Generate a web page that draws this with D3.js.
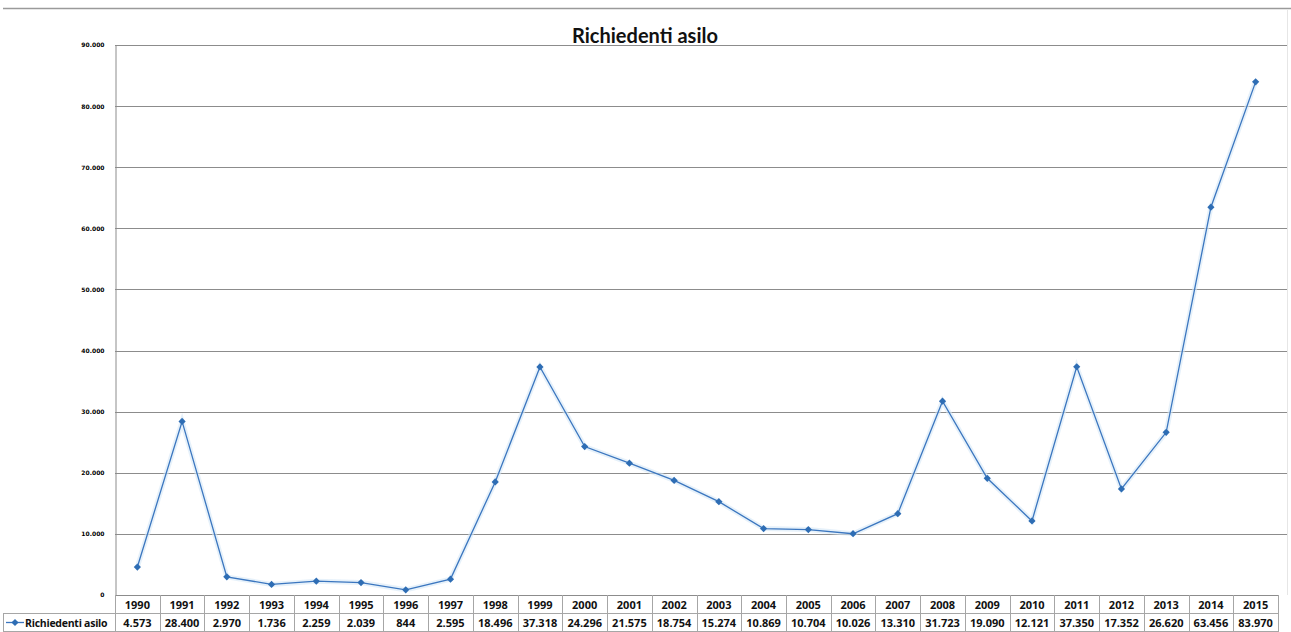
<!DOCTYPE html>
<html>
<head>
<meta charset="utf-8">
<script src="https://cdn.jsdelivr.net/npm/d3@7"></script>
<style>
  html, body { margin: 0; padding: 0; background: #fff; }
  svg { display: block; }
</style>
</head>
<body>
<svg id="chart" width="1291" height="632"></svg>
<script>
const years = ["1990","1991","1992","1993","1994","1995","1996","1997","1998","1999","2000","2001","2002","2003","2004","2005","2006","2007","2008","2009","2010","2011","2012","2013","2014","2015"];
const richiedenti = [4573, 28400, 2970, 1736, 2259, 2039, 844, 2595, 18496, 37318, 24296, 21575, 18754, 15274, 10869, 10704, 10026, 13310, 31723, 19090, 12121, 37350, 17352, 26620, 63456, 83970];
const yTicks = [0, 10000, 20000, 30000, 40000, 50000, 60000, 70000, 80000, 90000];
const seriesName = "Richiedenti asilo";
const chartTitle = "Richiedenti asilo";

(function () {
const svg = d3.select("#chart");
const W = 1291;
const pLeft = 115, pRight = 1278, plotRight = 1287, pTop = 45, pBottom = 595;
const row1 = 613, row2 = 632;
const lineColor = "#3b76bf";
const markColor = "#2e6db4";
const gridColor = "#8c8c8c";
const tableColor = "#a6a6a6";

const loc = d3.formatLocale({decimal: ",", thousands: ".", grouping: [3], currency: ["€", ""]});
const fmt = loc.format(",d");

const x = d3.scaleBand().domain(years).range([pLeft, pRight]);
const y = d3.scaleLinear().domain([0, 90000]).range([pBottom, pTop]);

// top rule
svg.append("line").attr("x1", 3).attr("x2", W).attr("y1", 8.5).attr("y2", 8.5)
  .attr("stroke", "#9a9a9a").attr("stroke-width", 1.5);

// gridlines
svg.append("g").selectAll("line").data(yTicks.filter(d => d > 0)).join("line")
  .attr("x1", pLeft).attr("x2", plotRight)
  .attr("y1", d => Math.round(y(d)) + 0.5).attr("y2", d => Math.round(y(d)) + 0.5)
  .attr("stroke", gridColor).attr("stroke-width", 1);

// faint right border
svg.append("line").attr("x1", plotRight + 0.5).attr("x2", plotRight + 0.5)
  .attr("y1", 10).attr("y2", pBottom).attr("stroke", "#e6e6e6");

// y axis
const yAxis = d3.axisLeft(y).tickValues(yTicks).tickSize(0).tickPadding(11)
  .tickFormat(d => fmt(d));
const gy = svg.append("g").attr("transform", `translate(${pLeft + 0.5},0)`).call(yAxis);
gy.select(".domain").attr("stroke", gridColor);
gy.selectAll("text").attr("font-family", "'DejaVu Sans', sans-serif")
  .attr("font-size", 6).attr("font-weight", "bold").attr("fill", "#000");

// title
svg.append("text").attr("x", 645).attr("y", 43).attr("text-anchor", "middle")
  .attr("font-family", "Lato, 'Open Sans', sans-serif").attr("font-weight", "bold")
  .attr("font-size", 20).attr("fill", "#111").text(chartTitle);

// line
const cx = d => x(d) + x.bandwidth() / 2;
const line = d3.line().x((d, i) => cx(years[i])).y(d => y(d));
svg.append("path").datum(richiedenti).attr("d", line)
  .attr("fill", "none").attr("stroke", "#d6e7f6").attr("stroke-width", 5).attr("opacity", 0.6);
svg.append("path").datum(richiedenti).attr("d", line)
  .attr("fill", "none").attr("stroke", lineColor).attr("stroke-width", 1.3);

const diamond = d3.symbol().type(d3.symbolSquare).size(26);
svg.append("g").selectAll("path").data(richiedenti).join("path")
  .attr("d", diamond)
  .attr("transform", (d, i) => `translate(${cx(years[i])},${y(d)}) rotate(45)`)
  .attr("fill", markColor);

// data table
const tg = svg.append("g");
tg.append("line").attr("x1", pLeft).attr("x2", pRight).attr("y1", pBottom + 0.5).attr("y2", pBottom + 0.5)
  .attr("stroke", gridColor);
tg.append("line").attr("x1", 3).attr("x2", pRight).attr("y1", row1 + 0.5).attr("y2", row1 + 0.5)
  .attr("stroke", tableColor);
tg.append("line").attr("x1", 3).attr("x2", pRight).attr("y1", row2 - 0.5).attr("y2", row2 - 0.5)
  .attr("stroke", tableColor);
const edges = years.map(d => x(d)).concat([pRight]);
tg.selectAll("line.v").data(edges).join("line").attr("class", "v")
  .attr("x1", d => Math.round(d) + 0.5).attr("x2", d => Math.round(d) + 0.5)
  .attr("y1", pBottom).attr("y2", row2)
  .attr("stroke", tableColor);
tg.append("line").attr("x1", 3.5).attr("x2", 3.5).attr("y1", row1).attr("y2", row2).attr("stroke", tableColor);

tg.selectAll("text.yr").data(years).join("text").attr("class", "yr")
  .attr("x", d => cx(d)).attr("y", 608.5).attr("text-anchor", "middle")
  .attr("font-family", "'Open Sans', sans-serif").attr("font-weight", "bold")
  .attr("font-size", 11).attr("fill", "#111").text(d => d);
tg.selectAll("text.val").data(richiedenti).join("text").attr("class", "val")
  .attr("x", (d, i) => cx(years[i])).attr("y", 627).attr("text-anchor", "middle")
  .attr("font-family", "'Open Sans', sans-serif").attr("font-weight", "bold")
  .attr("font-size", 11).attr("fill", "#111").text(d => fmt(d));

tg.append("line").attr("x1", 6).attr("x2", 24).attr("y1", 622.5).attr("y2", 622.5)
  .attr("stroke", lineColor).attr("stroke-width", 1.3);
tg.append("path").attr("d", diamond).attr("transform", "translate(15,622.5) rotate(45)").attr("fill", markColor);
tg.append("text").attr("x", 25).attr("y", 627)
  .attr("font-family", "'Open Sans', sans-serif").attr("font-weight", "bold")
  .attr("font-size", 10.5).attr("letter-spacing", -0.25).attr("fill", "#111").text(seriesName);
})();
</script>
</body>
</html>
